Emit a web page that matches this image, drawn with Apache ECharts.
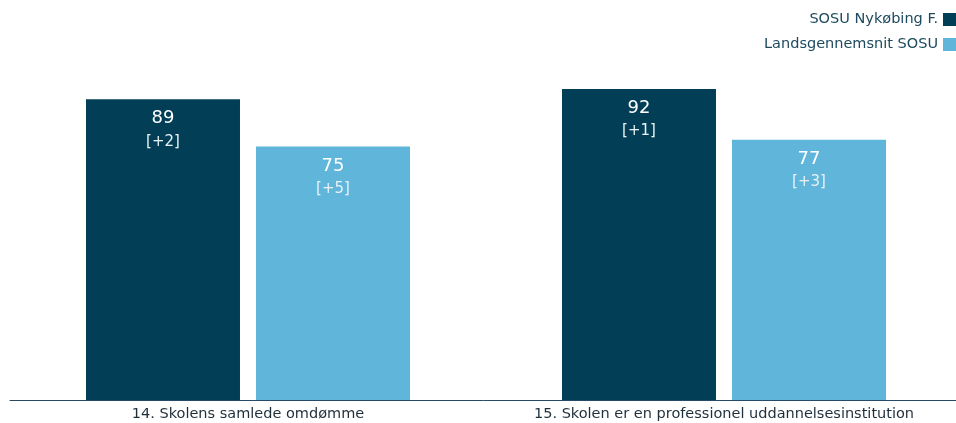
<!DOCTYPE html>
<html><head><meta charset="utf-8">
<script src="https://cdn.jsdelivr.net/npm/echarts@6/dist/echarts.min.js"></script>
<style>html,body{margin:0;padding:0;background:#fff}#c{width:956px;height:423px}</style>
</head><body><div id="c"></div>
<script>
const categories = ['14. Skolens samlede omdømme', '15. Skolen er en professionel uddannelsesinstitution'];
const seriesNames = ['SOSU Nykøbing F.', 'Landsgennemsnit SOSU'];
const schoolValues = [89, 92];
const schoolDiffs = ['+2', '+1'];
const nationalValues = [75, 77];
const nationalDiffs = ['+5', '+3'];
const colors = ['#023f56', '#5fb6da'];

const font = '"DejaVu Sans", sans-serif';
function lbl(diffs){
  return {
    show: true, position: 'insideTop', distance: 8,
    formatter: p => '{a|' + p.value + '}\n{b|[' + diffs[p.dataIndex] + ']}',
    rich: {
      a: {color: '#fff', fontSize: 18, fontFamily: font, lineHeight: 23},
      b: {color: '#e8f2f6', fontSize: 15, fontFamily: font, lineHeight: 23}
    }
  };
}
const chart = echarts.init(document.getElementById('c'));
chart.setOption({
  animation: false,
  legend: {
    orient: 'vertical', right: 0, top: 12, align: 'right', padding: 0,
    itemWidth: 13, itemHeight: 13, itemGap: 10, icon: 'rect',
    textStyle: {color: '#1d4a5e', fontSize: 14.5, fontFamily: font},
    data: seriesNames
  },
  grid: {left: 10, width: 952, top: 62, bottom: 23, outerBoundsMode: 'none', containLabel: false},
  xAxis: {
    type: 'category', data: categories,
    axisLine: {lineStyle: {color: '#274a66', width: 1}},
    axisTick: {show: false},
    axisLabel: {color: '#1f2f3a', fontSize: 14.5, fontFamily: font, margin: 7, interval: 0}
  },
  yAxis: {type: 'value', min: 0, max: 100, show: false, splitLine: {show: false}},
  series: [
    {name: seriesNames[0], type: 'bar', data: schoolValues, barWidth: 154, barGap: '10.4%',
     itemStyle: {color: colors[0]}, label: lbl(schoolDiffs)},
    {name: seriesNames[1], type: 'bar', data: nationalValues, barWidth: 154,
     itemStyle: {color: colors[1]}, label: lbl(nationalDiffs)}
  ]
});
</script></body></html>
